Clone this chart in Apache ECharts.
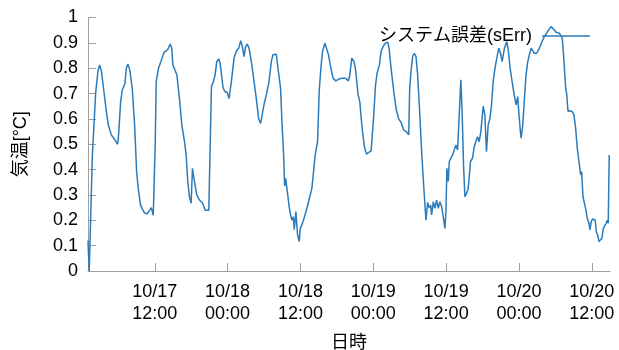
<!DOCTYPE html>
<html>
<head>
<meta charset="utf-8">
<script src="https://cdn.jsdelivr.net/npm/echarts@6/dist/echarts.min.js"></script>
<style>
  html, body { margin: 0; padding: 0; background: #fff; }
  #chart { width: 619px; height: 350px; }
</style>
</head>
<body>
<div id="chart"></div>
<script>
// Hours counted from 10/17 00:00
const hours = [
  1.00, 1.20, 1.45, 1.72, 2.27, 2.65, 2.92, 3.20, 3.64, 4.02, 4.35, 4.84, 5.44, 5.88, 5.99,
  6.38, 6.65, 7.09, 7.31, 7.58, 7.91, 8.29, 8.68, 9.01, 9.28, 9.66, 10.05, 10.27, 10.49, 10.76,
  11.03, 11.42, 11.75, 11.97, 12.07, 12.24, 12.62, 13.01, 13.55, 14.10, 14.54, 14.81, 14.98, 15.25,
  15.64, 16.07, 16.46, 16.90, 17.17, 17.44, 17.72, 17.99, 18.21, 18.49, 18.92, 19.36, 19.91, 20.29,
  20.57, 20.90, 21.12, 21.34, 21.66, 21.94, 22.21, 22.54, 22.76, 23.25, 23.53, 23.91, 24.24, 24.62,
  25.06, 25.45, 25.83, 26.16, 26.43, 26.71, 26.98, 27.25, 27.53, 27.91, 28.29, 28.73, 29.12, 29.44,
  29.72, 29.99, 30.38, 30.82, 31.20, 31.47, 31.75, 32.02, 32.30, 32.73, 32.95, 33.23, 33.39, 33.56,
  33.72, 33.94, 34.16, 34.38, 34.60, 34.82, 34.98, 35.25, 35.53, 35.80, 35.97, 36.24, 36.51, 36.90,
  37.34, 37.61, 37.88, 38.16, 38.43, 38.82, 39.09, 39.36, 39.64, 40.02, 40.29, 40.62, 41.01, 41.39,
  41.83, 42.38, 42.93, 43.47, 43.91, 44.13, 44.46, 44.84, 45.12, 45.50, 45.78, 46.16, 46.54, 46.87,
  47.26, 47.64, 47.91, 48.08, 48.35, 48.62, 49.01, 49.28, 49.61, 49.99, 50.38, 50.60, 50.93, 51.37,
  51.80, 52.19, 52.57, 53.01, 53.45, 53.83, 54.00, 54.21, 54.49, 54.76, 55.04, 55.31, 55.64, 55.91,
  56.19, 56.46, 56.68, 56.95, 57.17, 57.45, 57.61, 57.89, 58.16, 58.43, 58.71, 58.98, 59.26, 59.53,
  59.80, 59.97, 60.13, 60.35, 60.52, 60.79, 61.06, 61.34, 61.61, 61.89, 62.16, 62.43, 62.65, 62.87,
  63.09, 63.37, 63.64, 64.02, 64.35, 64.63, 64.90, 65.17, 65.45, 65.72, 66.11, 66.38, 66.65, 66.93,
  67.20, 67.48, 67.75, 68.02, 68.35, 68.68, 68.95, 69.23, 69.61, 70.00, 70.27, 70.54, 70.87, 71.26,
  71.53, 71.80, 71.97, 72.19, 72.35, 72.63, 72.90, 73.17, 73.45, 73.72, 74.00, 74.27, 74.54, 74.93,
  75.37, 75.80, 76.19, 76.57, 76.90, 77.28, 77.56, 77.83, 78.11, 78.38, 78.65, 78.93, 79.15, 79.42,
  79.70, 79.86, 80.08, 80.41, 80.79, 81.06, 81.34, 81.61, 81.89, 82.16, 82.33, 82.54, 82.71, 82.98,
  83.26, 83.53, 83.69, 83.91, 84.13, 84.35, 84.57, 84.74, 84.96, 85.18, 85.45, 85.67, 85.89, 86.16,
  86.38, 86.54, 86.71, 86.87
];

// System error sErr [°C]
const sErr = [
  0.120, 0.000, 0.000, 0.458, 0.705, 0.790, 0.813, 0.790, 0.705, 0.630, 0.576, 0.537, 0.517, 0.500, 0.520,
  0.668, 0.714, 0.740, 0.800, 0.816, 0.790, 0.720, 0.576, 0.392, 0.326, 0.260, 0.240, 0.230, 0.234, 0.225,
  0.228, 0.250, 0.220, 0.215, 0.500, 0.747, 0.800, 0.826, 0.863, 0.872, 0.895, 0.879, 0.813, 0.816,
  0.774, 0.680, 0.576, 0.510, 0.458, 0.353, 0.292, 0.267, 0.405, 0.360, 0.300, 0.280, 0.267, 0.240,
  0.236, 0.240, 0.484, 0.728, 0.747, 0.774, 0.826, 0.837, 0.820, 0.724, 0.708, 0.705, 0.680, 0.747,
  0.840, 0.868, 0.879, 0.908, 0.886, 0.846, 0.886, 0.895, 0.879, 0.826, 0.760, 0.680, 0.600, 0.582,
  0.588, 0.655, 0.695, 0.747, 0.826, 0.853, 0.850, 0.855, 0.800, 0.720, 0.590, 0.458, 0.335, 0.366,
  0.335, 0.294, 0.250, 0.221, 0.200, 0.214, 0.163, 0.234, 0.142, 0.116, 0.168, 0.182, 0.201, 0.234,
  0.273, 0.300, 0.326, 0.392, 0.458, 0.510, 0.708, 0.800, 0.866, 0.899, 0.892, 0.853, 0.800, 0.760,
  0.750, 0.758, 0.760, 0.760, 0.750, 0.774, 0.840, 0.826, 0.787, 0.695, 0.668, 0.563, 0.490, 0.461,
  0.468, 0.474, 0.468, 0.616, 0.728, 0.780, 0.813, 0.866, 0.885, 0.899, 0.903, 0.879, 0.800, 0.708,
  0.635, 0.600, 0.587, 0.556, 0.550, 0.537, 0.720, 0.787, 0.846, 0.859, 0.846, 0.774, 0.628, 0.497,
  0.379, 0.280, 0.200, 0.270, 0.250, 0.260, 0.221, 0.273, 0.247, 0.280, 0.247, 0.273, 0.254, 0.214,
  0.168, 0.234, 0.405, 0.353, 0.432, 0.445, 0.458, 0.477, 0.497, 0.477, 0.616, 0.754, 0.616, 0.418,
  0.293, 0.306, 0.326, 0.432, 0.445, 0.490, 0.510, 0.530, 0.510, 0.550, 0.650, 0.616, 0.471, 0.576,
  0.600, 0.655, 0.747, 0.795, 0.840, 0.879, 0.860, 0.826, 0.879, 0.905, 0.866, 0.800, 0.747, 0.688,
  0.655, 0.688, 0.628, 0.563, 0.524, 0.576, 0.680, 0.774, 0.826, 0.853, 0.879, 0.879, 0.859, 0.859,
  0.879, 0.905, 0.925, 0.938, 0.951, 0.964, 0.968, 0.951, 0.942, 0.938, 0.938, 0.938, 0.918, 0.826,
  0.720, 0.700, 0.630, 0.632, 0.628, 0.616, 0.563, 0.484, 0.432, 0.379, 0.392, 0.294, 0.300, 0.247,
  0.208, 0.188, 0.162, 0.195, 0.205, 0.210, 0.200, 0.155, 0.142, 0.116, 0.112, 0.129, 0.168, 0.180,
  0.188, 0.200, 0.188, 0.458
];

// Tick positions on the time axis (hours from 10/17 00:00)
const timeTicks = [12, 24, 36, 48, 60, 72, 84];
const seriesName = 'システム誤差(sErr)';

const FONT = '"Liberation Sans", Arial, "Noto Sans CJK JP", sans-serif';
const AXIS_GREY = '#a0a0a0';
const LINE_BLUE = '#2b7bba';

function tickLabel(h) {
  const day = 17 + Math.floor(h / 24);
  const hh = String(h % 24).padStart(2, '0');
  return '10/' + day + '\n' + hh + ':00';
}

const chart = echarts.init(document.getElementById('chart'), null, { renderer: 'canvas' });
chart.setOption({
  animation: false,
  backgroundColor: '#ffffff',
  grid: {
    left: 88, right: 9, top: 17.5, bottom: 79,
    containLabel: false,
    outerBoundsMode: 'none'
  },
  legend: {
    right: 29,
    top: 27,
    padding: 0,
    align: 'right',
    itemWidth: 48,
    itemHeight: 1.5,
    data: [{ name: seriesName, icon: 'rect' }],
    itemStyle: { color: LINE_BLUE },
    textStyle: { fontFamily: FONT, fontSize: 18, color: '#000', padding: [0, 5, 0, 0] }
  },
  xAxis: {
    type: 'value',
    min: 1,
    max: 87,
    name: '日時',
    nameLocation: 'middle',
    nameGap: 63,
    nameTextStyle: { fontFamily: FONT, fontSize: 18, color: '#000' },
    axisLine: { show: true, lineStyle: { color: AXIS_GREY, width: 1 } },
    axisTick: { show: true, inside: true, length: 8, customValues: timeTicks, lineStyle: { color: AXIS_GREY } },
    axisLabel: {
      customValues: timeTicks,
      formatter: tickLabel,
      fontFamily: FONT,
      fontSize: 18,
      lineHeight: 22,
      color: '#000',
      margin: 10
    },
    splitLine: { show: false }
  },
  yAxis: {
    type: 'value',
    min: 0,
    max: 1,
    interval: 0.1,
    name: '気温[°C]',
    nameLocation: 'middle',
    nameGap: 58,
    nameTextStyle: { fontFamily: FONT, fontSize: 18, color: '#000' },
    axisLine: { show: true, lineStyle: { color: AXIS_GREY, width: 1 } },
    axisTick: { show: true, inside: true, length: 8, lineStyle: { color: AXIS_GREY } },
    axisLabel: {
      fontFamily: FONT,
      fontSize: 18,
      color: '#000',
      margin: 10,
      formatter: v => String(Math.round(v * 10) / 10)
    },
    splitLine: { show: false }
  },
  series: [{
    name: seriesName,
    type: 'line',
    data: hours.map((h, i) => [h, sErr[i]]),
    symbol: 'none',
    showSymbol: false,
    smooth: false,
    lineStyle: { color: LINE_BLUE, width: 1.5 },
    itemStyle: { color: LINE_BLUE }
  }]
});
</script>
</body>
</html>
